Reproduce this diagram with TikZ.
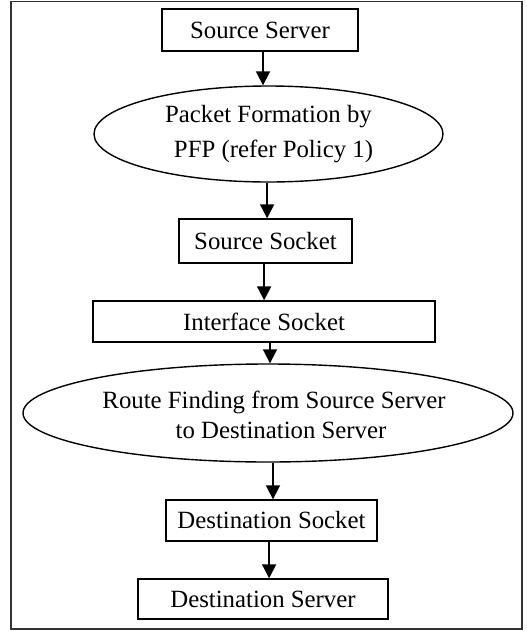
\documentclass[tikz,border=0pt]{standalone}
\usepackage{fontspec}
\setmainfont{Liberation Serif}
\usetikzlibrary{shapes.geometric,arrows.meta}
\begin{document}
\begin{tikzpicture}[x=0.5pt,y=-0.5pt,
  every node/.style={font=\fontsize{12.4}{15}\selectfont, inner sep=0pt},
  box/.style={draw, line width=0.7pt, rectangle},
  oval/.style={draw, line width=0.7pt, ellipse, align=center},
  arr/.style={line width=0.9pt, -{Triangle[width=7pt,length=7pt]}}]
\useasboundingbox (0,0) rectangle (526,633);
\draw[line width=0.9pt, draw=black!80] (11,1.5) rectangle (522,629);
\node[box, minimum width=98pt, minimum height=21pt] (ss) at (260,30) {Source Server};
\node[oval, minimum width=174.5pt, minimum height=48pt, font=\fontsize{12.4}{17.5}\selectfont] (e1) at (268.5,134) {Packet Formation by\\\hspace*{5pt}PFP (refer Policy 1)};
\node[box, minimum width=86.5pt, minimum height=22pt] (sk) at (265.5,241) {Source Socket};
\node[box, minimum width=171pt, minimum height=20.5pt] (is) at (264,321.5) {Interface Socket};
\node[oval, minimum width=245pt, minimum height=49pt] (e2) at (268,413) {};
\node[align=center] (e2t) at (274,415) {Route Finding from Source Server\\\hspace*{7pt}to Destination Server};
\node[box, minimum width=105.5pt, minimum height=20.5pt] (ds) at (271.5,520.5) {Destination Socket};
\node[box, minimum width=125pt, minimum height=20pt] (dv) at (263,599) {Destination Server};
\draw[arr] ([xshift=1.5pt]ss.south) -- ([xshift=1.5pt]ss.south |- e1.north);
\draw[arr] ([xshift=-0.7pt]e1.south) -- ([xshift=-0.7pt]e1.south |- sk.north);
\draw[arr] ([xshift=-0.7pt]sk.south) -- ([xshift=-0.7pt]sk.south |- is.north);
\draw[arr] ([xshift=3pt]is.south) -- ([xshift=3pt]is.south |- e2.north);
\draw[arr] ([xshift=2.5pt]e2.south) -- ([xshift=2.5pt]e2.south |- ds.north);
\draw[arr] ([xshift=-1.2pt]ds.south) -- ([xshift=-1.2pt]ds.south |- dv.north);
\end{tikzpicture}
\end{document}
